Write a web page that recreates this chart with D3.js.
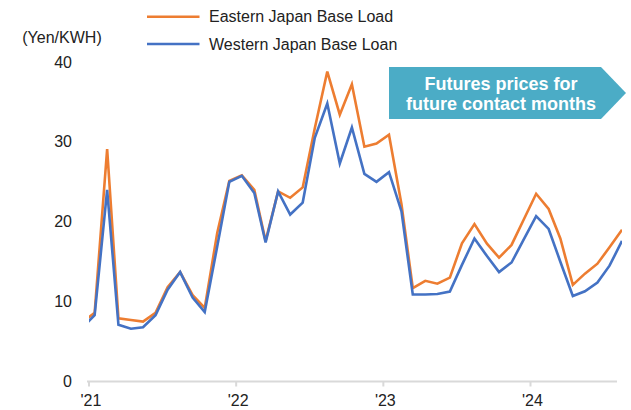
<!DOCTYPE html>
<html>
<head>
<meta charset="utf-8">
<script src="https://cdn.jsdelivr.net/npm/d3@7"></script>
<style>
  html, body { margin: 0; padding: 0; background: #fff; }
  svg { display: block; }
  text { font-family: "Liberation Sans", Arial, sans-serif; }
</style>
</head>
<body>
<script>
// Monthly base-load price (Yen/KWH), mid-month points
const months = [
  "2020-12",
  "2021-01","2021-02","2021-03","2021-04","2021-05","2021-06","2021-07","2021-08","2021-09","2021-10","2021-11","2021-12",
  "2022-01","2022-02","2022-03","2022-04","2022-05","2022-06","2022-07","2022-08","2022-09","2022-10","2022-11","2022-12",
  "2023-01","2023-02","2023-03","2023-04","2023-05","2023-06","2023-07","2023-08","2023-09","2023-10","2023-11","2023-12",
  "2024-01","2024-02","2024-03","2024-04","2024-05","2024-06","2024-07","2024-08"
];
const eastern = [
  7.4,
  8.6, 29.1, 7.9, 7.7, 7.5, 8.6, 11.8, 13.7, 10.8, 9.2, 18.6, 25.1,
  25.8, 24.0, 17.6, 23.8, 23.0, 24.3, 31.7, 38.8, 33.4, 37.2, 29.4, 29.8,
  30.9, 22.2, 11.7, 12.6, 12.25, 13.0, 17.3, 19.7, 17.25, 15.5, 17.1, 20.25,
  23.5, 21.6, 17.9, 12.1, 13.5, 14.75, 16.8, 19.0
];
const western = [
  6.7,
  8.3, 24.0, 7.1, 6.6, 6.8, 8.3, 11.5, 13.7, 10.5, 8.7, 16.9, 25.0,
  25.75, 23.6, 17.4, 23.8, 20.9, 22.4, 30.5, 34.8, 27.3, 31.8, 26.0, 25.0,
  26.2, 21.3, 10.9, 10.9, 10.95, 11.25, 14.6, 17.9, 15.7, 13.7, 14.9, 17.75,
  20.7, 19.1, 15.0, 10.7, 11.3, 12.4, 14.5, 17.6
];
const seriesNames = ["Eastern Japan Base Load", "Western Japan Base Loan"];
const seriesColors = ["#ED7D31", "#4472C4"];
const yTicks = [0, 10, 20, 30, 40];
const xTickYears = [2021, 2022, 2023, 2024];
const xTickLabels = ["'21", "'22", "'23", "'24"];
const unitLabel = "(Yen/KWH)";
const calloutLines = ["Futures prices for", "future contact months"];

const W = 631, H = 410;
const plotLeft = 89, plotRight = 622, axisEnd = 617;

const svg = d3.select("body").append("svg")
  .attr("width", W).attr("height", H);

const parse = d3.timeParse("%Y-%m");
const dates = months.map(m => { const d = parse(m); d.setDate(15); return d; });

const x = d3.scaleTime()
  .domain([new Date(2021, 0, 1), new Date(2024, 0, 1)])
  .range([plotLeft, 530.5]);
const y = d3.scaleLinear().domain([0, 40]).range([381.5, 62]);

// y tick labels (no gridlines)
svg.append("g").selectAll("text")
  .data(yTicks).join("text")
  .attr("x", 72).attr("y", d => y(d))
  .attr("dy", "0.35em")
  .attr("text-anchor", "end")
  .attr("font-size", 16).attr("fill", "#222")
  .text(d => d);

svg.append("text")
  .attr("x", 62).attr("y", 37).attr("dy", "0.35em")
  .attr("text-anchor", "middle")
  .attr("font-size", 16).attr("fill", "#222")
  .text(unitLabel);

// x axis baseline with year ticks
const xAxis = svg.append("g");
xAxis.append("line")
  .attr("x1", plotLeft - 2).attr("x2", axisEnd)
  .attr("y1", y(0)).attr("y2", y(0))
  .attr("stroke", "#D9D9D9").attr("stroke-width", 2);
const yearDates = xTickYears.map(yr => new Date(yr, 0, 1));
xAxis.selectAll("line.tick").data(yearDates).join("line")
  .attr("class", "tick")
  .attr("x1", d => x(d)).attr("x2", d => x(d))
  .attr("y1", y(0)).attr("y2", y(0) + 5)
  .attr("stroke", "#D9D9D9").attr("stroke-width", 2);
xAxis.selectAll("text").data(yearDates).join("text")
  .attr("x", d => x(d) + 2).attr("y", 406)
  .attr("text-anchor", "middle")
  .attr("font-size", 16).attr("fill", "#222")
  .text((d, i) => xTickLabels[i]);

// clip lines to the plot span
svg.append("defs").append("clipPath").attr("id", "plot-clip")
  .append("rect").attr("x", plotLeft).attr("y", 0)
  .attr("width", plotRight - plotLeft).attr("height", H);

const line = d3.line()
  .x((d, i) => x(dates[i]))
  .y(d => y(d));

const lines = svg.append("g").attr("clip-path", "url(#plot-clip)");
[eastern, western].forEach((vals, si) => {
  lines.append("path")
    .datum(vals)
    .attr("d", line)
    .attr("fill", "none")
    .attr("stroke", seriesColors[si])
    .attr("stroke-width", 2.6)
    .attr("stroke-linejoin", "miter");
});

// legend
const legend = svg.append("g");
seriesNames.forEach((name, i) => {
  const ly = 16.7 + i * 27.3;
  legend.append("line")
    .attr("x1", 147).attr("x2", 199.5)
    .attr("y1", ly).attr("y2", ly)
    .attr("stroke", seriesColors[i]).attr("stroke-width", 2.6);
  legend.append("text")
    .attr("x", 209).attr("y", ly).attr("dy", "0.35em")
    .attr("font-size", 16).attr("fill", "#222")
    .text(name);
});

// callout arrow
const callout = svg.append("g");
callout.append("path")
  .attr("d", "M389,67 L601,67 L626,93 L601,119 L389,119 Z")
  .attr("fill", "#4BACC6");
callout.selectAll("text").data(calloutLines).join("text")
  .attr("x", 501).attr("y", (d, i) => 89.5 + i * 20)
  .attr("text-anchor", "middle")
  .attr("font-size", 18).attr("font-weight", "bold")
  .attr("fill", "#fff")
  .text(d => d);
</script>
</body>
</html>
